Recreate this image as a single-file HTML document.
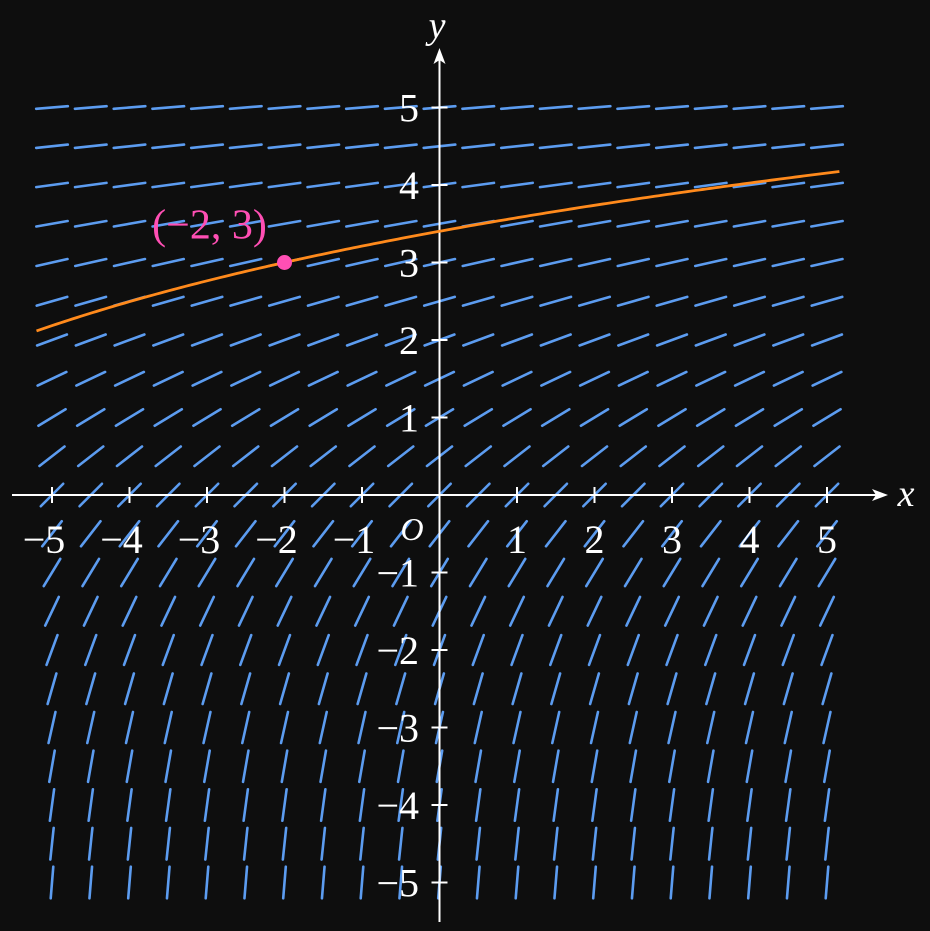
<!DOCTYPE html>
<html><head><meta charset="utf-8">
<style>
html,body{margin:0;padding:0;background:#0e0e0e;}
svg{display:block;}
text{font-family:"Liberation Serif",serif;fill:#fff;}
</style></head>
<body>
<svg id="chart" width="930" height="931" viewBox="0 0 930 931" xmlns="http://www.w3.org/2000/svg">
<rect width="930" height="931" fill="#0e0e0e"/>
<g id="field"></g>
<g id="axes"></g>
<g id="curve"></g>
</svg>
<script>
const xGrid = [-5,-4.5,-4,-3.5,-3,-2.5,-2,-1.5,-1,-0.5,0,0.5,1,1.5,2,2.5,3,3.5,4,4.5,5];
const yGrid = [-5,-4.5,-4,-3.5,-3,-2.5,-2,-1.5,-1,-0.5,0,0.5,1,1.5,2,2.5,3,3.5,4,4.5,5];
const xTicks = [-5,-4,-3,-2,-1,1,2,3,4,5];
const yTicks = [-5,-4,-3,-2,-1,1,2,3,4,5];
const point = [-2,3];
const curveX = [-5.2,5.16];
const segLen = 0.41;

const ox = 439.5, oy = 495, s = 77.5;
const X = v => ox + v*s;
const Y = v => oy - v*s;
const NS = "http://www.w3.org/2000/svg";
function mk(tag, attrs, parent){ const e=document.createElementNS(NS,tag); for(const k in attrs) e.setAttribute(k,attrs[k]); parent.appendChild(e); return e; }
const slope = (x,y) => Math.exp(-y/2);
const field = document.getElementById('field');
for(const x of xGrid) for(const y of yGrid){
  const m = slope(x,y); const a = Math.atan(m);
  const dx = Math.cos(a)*segLen/2, dy = Math.sin(a)*segLen/2;
  const l = mk('line',{x1:X(x-dx),y1:Y(y-dy),x2:X(x+dx),y2:Y(y+dy),stroke:'#5c9cf0','stroke-width':2.6,'stroke-linecap':'round'},field);
  
  
}
const axes = document.getElementById('axes');
let e;
e = mk('line',{x1:12,y1:oy,x2:880,y2:oy,stroke:'#fff','stroke-width':2},axes);
 
e = mk('path',{d:`M888 ${oy} L872 ${oy-6} L876 ${oy} L872 ${oy+6} Z`,fill:'#fff'},axes);
 
e = mk('line',{x1:ox,y1:922,x2:ox,y2:56,stroke:'#fff','stroke-width':2},axes);
 
e = mk('path',{d:`M${ox} 48 L${ox-6} 64 L${ox} 60 L${ox+6} 64 Z`,fill:'#fff'},axes);
 
for(const t of xTicks){
  e = mk('line',{x1:X(t),y1:oy-8,x2:X(t),y2:oy+8,stroke:'#fff','stroke-width':2},axes);
   
  e = mk('text',{x:X(t)+(t<0?-8:0),y:553,'font-size':40,'text-anchor':'middle'},axes);
  e.textContent = t<0 ? '\u2212'+(-t) : String(t);
   
}
for(const t of yTicks){
  e = mk('line',{x1:ox-8,y1:Y(t),x2:ox+8,y2:Y(t),stroke:'#fff','stroke-width':2},axes);
   
  e = mk('text',{x:419,y:Y(t)+14,'font-size':40,'text-anchor':'end'},axes);
  e.textContent = t<0 ? '\u2212'+(-t) : String(t);
   
}
e = mk('text',{x:412,y:540,'font-size':32,'font-style':'italic','text-anchor':'middle'},axes);
e.textContent='O';  
e = mk('text',{x:906,y:506,'font-size':38,'font-style':'italic','text-anchor':'middle'},axes);
e.textContent='x';  
e = mk('text',{x:437,y:38,'font-size':38,'font-style':'italic','text-anchor':'middle'},axes);
e.textContent='y';  

const cg = document.getElementById('curve');
const C = 2*Math.exp(point[1]/2) - point[0];
const sol = x => 2*Math.log((x + C)/2);
let d='';
for(let i=0;i<=200;i++){ const x=curveX[0]+(curveX[1]-curveX[0])*i/200; d+=(i?'L':'M')+X(x).toFixed(2)+' '+Y(sol(x)).toFixed(2)+' '; }
e = mk('path',{d:d,fill:'none',stroke:'#ff8a1c','stroke-width':2.8},cg);
 
e = mk('circle',{cx:X(point[0]),cy:Y(point[1]),r:7.5,fill:'#ff4fb4'},cg);
 
e = mk('text',{x:X(point[0])-75,y:Y(point[1])-24,'font-size':42,'text-anchor':'middle',style:'fill:#ff4fb4'},cg);
e.textContent='(\u2212'+(-point[0])+', '+point[1]+')';
 
</script>
</body></html>
